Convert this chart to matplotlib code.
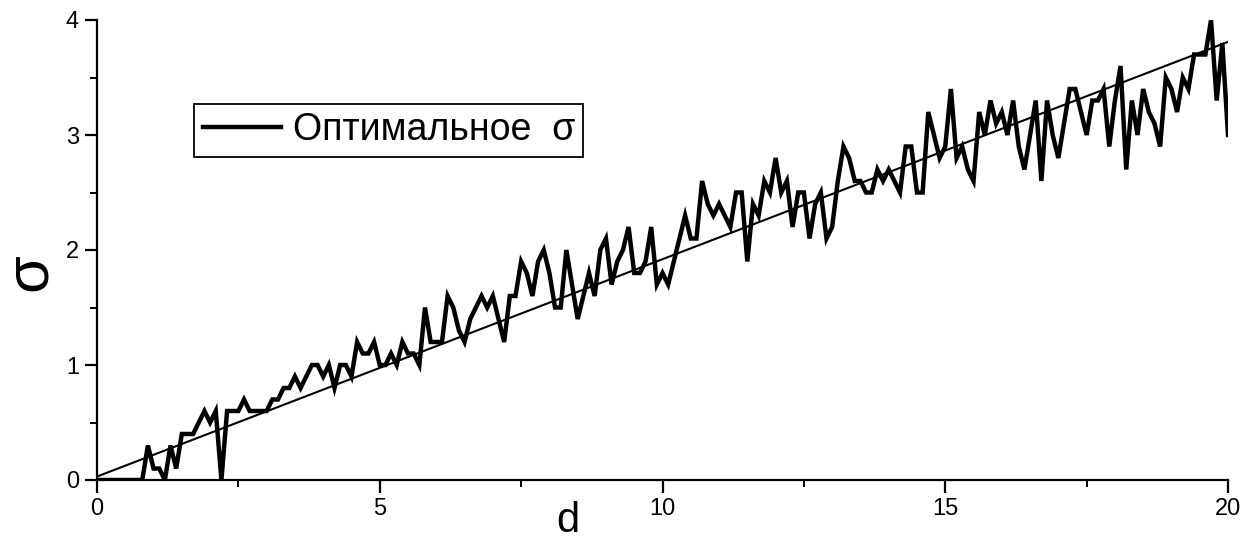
import matplotlib
matplotlib.use("Agg")
import matplotlib.pyplot as plt
from matplotlib.ticker import MultipleLocator

# optimal sigma vs d, sampled every 0.1
d_start, d_step = 0.0, 0.1
sigma_opt = [
    0.0, 0.0, 0.0, 0.0, 0.0, 0.0, 0.0, 0.0, 0.0, 0.3,   # 0.0 - 0.9
    0.1, 0.1, 0.0, 0.3, 0.1, 0.4, 0.4, 0.4, 0.5, 0.6,   # 1.0 - 1.9
    0.5, 0.6, 0.0, 0.6, 0.6, 0.6, 0.7, 0.6, 0.6, 0.6,   # 2.0 - 2.9
    0.6, 0.7, 0.7, 0.8, 0.8, 0.9, 0.8, 0.9, 1.0, 1.0,   # 3.0 - 3.9
    0.9, 1.0, 0.8, 1.0, 1.0, 0.9, 1.2, 1.1, 1.1, 1.2,   # 4.0 - 4.9
    1.0, 1.0, 1.1, 1.0, 1.2, 1.1, 1.1, 1.0, 1.5, 1.2,   # 5.0 - 5.9
    1.2, 1.2, 1.6, 1.5, 1.3, 1.2, 1.4, 1.5, 1.6, 1.5,   # 6.0 - 6.9
    1.6, 1.4, 1.2, 1.6, 1.6, 1.9, 1.8, 1.6, 1.9, 2.0,   # 7.0 - 7.9
    1.8, 1.5, 1.5, 2.0, 1.7, 1.4, 1.6, 1.8, 1.6, 2.0,   # 8.0 - 8.9
    2.1, 1.7, 1.9, 2.0, 2.2, 1.8, 1.8, 1.9, 2.2, 1.7,   # 9.0 - 9.9
    1.8, 1.7, 1.9, 2.1, 2.3, 2.1, 2.1, 2.6, 2.4, 2.3,   # 10.0 - 10.9
    2.4, 2.3, 2.2, 2.5, 2.5, 1.9, 2.4, 2.3, 2.6, 2.5,   # 11.0 - 11.9
    2.8, 2.5, 2.6, 2.2, 2.5, 2.5, 2.1, 2.4, 2.5, 2.1,   # 12.0 - 12.9
    2.2, 2.6, 2.9, 2.8, 2.6, 2.6, 2.5, 2.5, 2.7, 2.6,   # 13.0 - 13.9
    2.7, 2.6, 2.5, 2.9, 2.9, 2.5, 2.5, 3.2, 3.0, 2.8,   # 14.0 - 14.9
    2.9, 3.4, 2.8, 2.9, 2.7, 2.6, 3.2, 3.0, 3.3, 3.1,   # 15.0 - 15.9
    3.2, 3.0, 3.3, 2.9, 2.7, 3.0, 3.3, 2.6, 3.3, 3.0,   # 16.0 - 16.9
    2.8, 3.1, 3.4, 3.4, 3.2, 3.0, 3.3, 3.3, 3.4, 2.9,   # 17.0 - 17.9
    3.3, 3.6, 2.7, 3.3, 3.0, 3.4, 3.2, 3.1, 2.9, 3.5,   # 18.0 - 18.9
    3.4, 3.2, 3.5, 3.4, 3.7, 3.7, 3.7, 4.0, 3.3, 3.8,   # 19.0 - 19.9
    3.0,                                                # 20.0
]
d_vals = [round(d_start + i * d_step, 1) for i in range(len(sigma_opt))]

# linear fit endpoints
fit_d = [0.0, 20.0]
fit_sigma = [0.03, 3.81]

plt.rcParams["font.family"] = ["Liberation Sans", "DejaVu Sans"]

fig = plt.figure(figsize=(12.58, 5.42), dpi=100)
ax = fig.add_axes([97 / 1258, 62 / 542, 1131 / 1258, 460 / 542])

ax.plot(fit_d, fit_sigma, color="black", lw=1.5)
ax.plot(d_vals, sigma_opt, color="black", lw=3.2, solid_joinstyle="miter",
        label="Оптимальное  σ")

ax.set_xlim(0, 20)
ax.set_ylim(0, 4)
ax.xaxis.set_major_locator(MultipleLocator(5))
ax.xaxis.set_minor_locator(MultipleLocator(2.5))
ax.yaxis.set_major_locator(MultipleLocator(1))
ax.yaxis.set_minor_locator(MultipleLocator(0.5))

for side in ("top", "right"):
    ax.spines[side].set_visible(False)
for side in ("left", "bottom"):
    ax.spines[side].set_linewidth(1.6)

ax.tick_params(which="major", direction="out", length=9, width=1.6, labelsize=17, pad=4)
ax.tick_params(which="minor", direction="out", length=5, width=1.4)

ax.set_xlabel("d", fontsize=30, va="bottom")
ax.xaxis.set_label_coords(0.4165, -0.132)
ax.set_ylabel("σ", fontsize=44)
ax.yaxis.set_label_coords(-0.034, 0.452)

leg = ax.legend(loc="upper left", bbox_to_anchor=(0.086, 0.817), borderaxespad=0,
                fontsize=27, frameon=True, fancybox=False, handlelength=2.1,
                handletextpad=0.3, borderpad=0.22)
leg.get_frame().set_edgecolor("black")
leg.get_frame().set_linewidth(1.3)
leg.get_frame().set_alpha(1)

fig.savefig("out.png", dpi=100)
